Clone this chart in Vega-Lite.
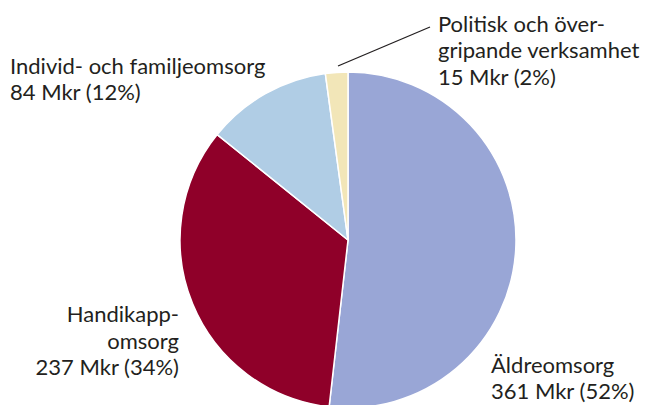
{
  "$schema": "https://vega.github.io/schema/vega-lite/v6.json",
  "width": 594,
  "height": 330,
  "autosize": {"type": "none"},
  "padding": {"left": 51, "top": 75, "right": 0, "bottom": 0},
  "background": "white",
  "config": {"view": {"stroke": null}},
  "datasets": {
    "slices": [
      {"i": 1, "cat": "Äldreomsorg", "value": 361, "label": "Äldreomsorg\n361 Mkr (52%)"},
      {"i": 2, "cat": "Handikappomsorg", "value": 237, "label": "Handikapp-\nomsorg\n237 Mkr (34%)"},
      {"i": 3, "cat": "Individ- och familjeomsorg", "value": 84, "label": "Individ- och familjeomsorg\n84 Mkr (12%)"},
      {"i": 4, "cat": "Politisk och övergripande verksamhet", "value": 15, "label": "Politisk och över-\ngripande verksamhet\n15 Mkr (2%)"}
    ],
    "leader": [{"x": -0.0595, "y": 1.0357, "x2": 0.488, "y2": 1.268}]
  },
  "layer": [
    {
      "data": {"name": "slices"},
      "mark": {"type": "arc", "outerRadius": 168, "stroke": "white", "strokeWidth": 1.5},
      "encoding": {
        "theta": {"field": "value", "type": "quantitative", "stack": true},
        "order": {"field": "i", "type": "quantitative"},
        "color": {
          "field": "cat", "type": "nominal", "legend": null,
          "scale": {
            "domain": ["Äldreomsorg", "Handikappomsorg", "Individ- och familjeomsorg", "Politisk och övergripande verksamhet"],
            "range": ["#99A6D6", "#8F0029", "#B0CDE5", "#F2E6B8"]
          }
        }
      }
    },
    {
      "data": {"name": "slices"},
      "mark": {"type": "text", "radius": 190, "align": "left", "baseline": "alphabetic", "dx": 102.8, "dy": -18.9, "font": "Lato", "fontSize": 22, "lineHeight": 26.5, "lineBreak": "\n", "color": "#231F20"},
      "encoding": {
        "theta": {"field": "value", "type": "quantitative", "stack": true},
        "order": {"field": "i", "type": "quantitative"},
        "text": {"condition": {"test": "datum.i === 4", "field": "label"}, "value": ""}
      }
    },
    {
      "data": {"name": "slices"},
      "mark": {"type": "text", "radius": 190, "align": "left", "baseline": "alphabetic", "dx": -244.6, "dy": -1, "font": "Lato", "fontSize": 22, "lineHeight": 26.5, "lineBreak": "\n", "color": "#231F20"},
      "encoding": {
        "theta": {"field": "value", "type": "quantitative", "stack": true},
        "order": {"field": "i", "type": "quantitative"},
        "text": {"condition": {"test": "datum.i === 3", "field": "label"}, "value": ""}
      }
    },
    {
      "data": {"name": "slices"},
      "mark": {"type": "text", "radius": 180, "align": "right", "baseline": "alphabetic", "dx": -2.5, "dy": 13.7, "font": "Lato", "fontSize": 22, "lineHeight": 26.5, "lineBreak": "\n", "color": "#231F20"},
      "encoding": {
        "theta": {"field": "value", "type": "quantitative", "stack": true},
        "order": {"field": "i", "type": "quantitative"},
        "text": {"condition": {"test": "datum.i === 2", "field": "label"}, "value": ""}
      }
    },
    {
      "data": {"name": "slices"},
      "mark": {"type": "text", "radius": 180, "align": "left", "baseline": "alphabetic", "dx": -36.7, "dy": 122.4, "font": "Lato", "fontSize": 22, "lineHeight": 26, "lineBreak": "\n", "color": "#231F20"},
      "encoding": {
        "theta": {"field": "value", "type": "quantitative", "stack": true},
        "order": {"field": "i", "type": "quantitative"},
        "text": {"condition": {"test": "datum.i === 1", "field": "label"}, "value": ""}
      }
    },
    {
      "data": {"name": "leader"},
      "mark": {"type": "rule", "color": "#231F20", "strokeWidth": 1.3},
      "encoding": {
        "x": {"field": "x", "type": "quantitative", "scale": {"domain": [-1.76786, 1.76786], "nice": false, "zero": false}, "axis": null},
        "y": {"field": "y", "type": "quantitative", "scale": {"domain": [-0.98214, 0.98214], "nice": false, "zero": false}, "axis": null},
        "x2": {"field": "x2"},
        "y2": {"field": "y2"}
      }
    }
  ]
}
